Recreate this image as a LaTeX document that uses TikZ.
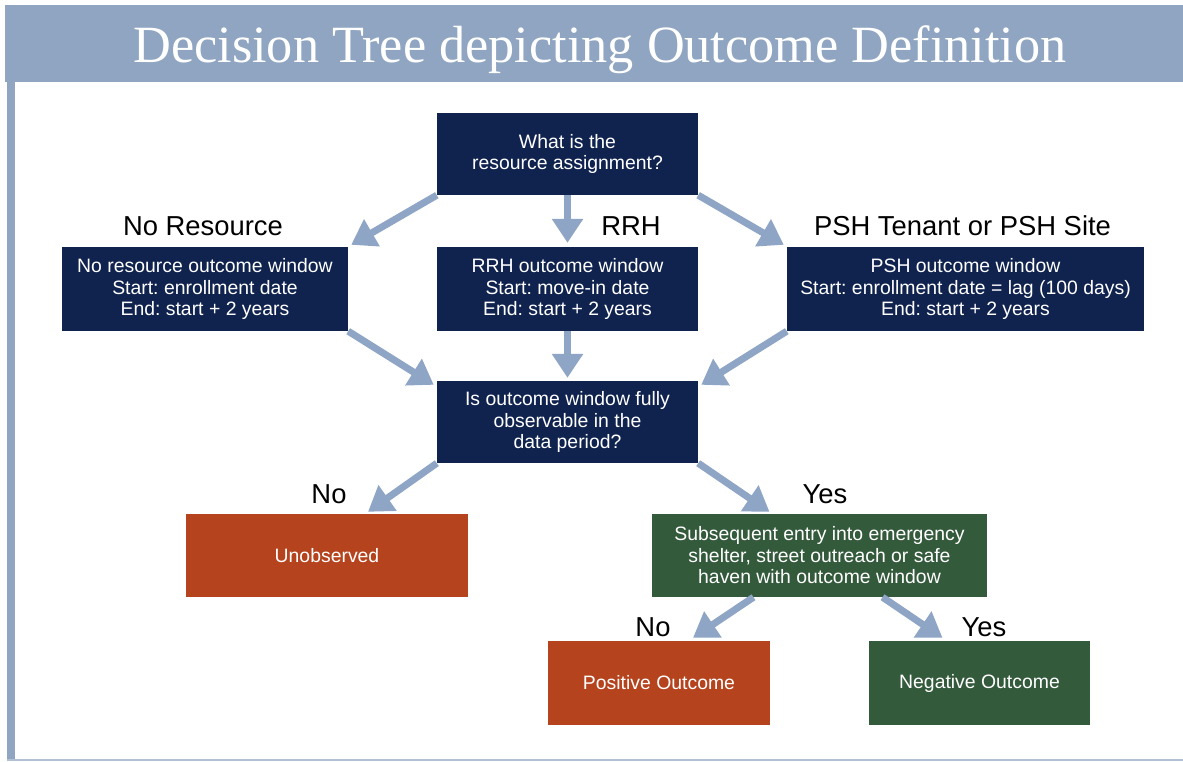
\documentclass[tikz,border=0pt]{standalone}
\usepackage{fontspec}
\setmainfont{Liberation Sans}
\newfontfamily\titlefont{Liberation Serif}
\usetikzlibrary{arrows.meta,calc}
\definecolor{bandc}{HTML}{8FA5C1}
\definecolor{arrowc}{HTML}{8FA5C6}
\definecolor{navyc}{HTML}{10234F}
\definecolor{redc}{HTML}{B5431E}
\definecolor{greenc}{HTML}{345A3C}
\tikzset{
  box/.style={fill=navyc, text=white, align=center, inner sep=0pt,
    font=\fontsize{19.4}{21.5}\selectfont},
  redbox/.style={box, fill=redc},
  greenbox/.style={box, fill=greenc},
  lbl/.style={anchor=base, inner sep=0pt, font=\fontsize{27.4}{30}\selectfont},
  arr/.style={draw=arrowc, line width=7pt, -{Triangle[width=30pt,length=24pt]}, fill=arrowc}
}
\begin{document}
\frenchspacing
\begin{tikzpicture}[x=1pt,y=-1pt]
\useasboundingbox (0,0) rectangle (1183,762);
\fill[white] (0,0) rectangle (1183,762);
% title band and frame
\fill[bandc] (5,5) rectangle (1183,82);
\fill[bandc] (7,82) rectangle (15,761);
\fill[bandc!70] (7,759) rectangle (1183,761);
\node[anchor=base, inner sep=0pt, text=white, font=\titlefont\fontsize{52.3}{56}\selectfont] (title) at (600,63) {Decision Tree depicting Outcome Definition};
% boxes
\node[box, minimum width=261pt, minimum height=82pt] (top) at (567.5,154) {What is the\\resource assignment?};
\node[box, minimum width=286pt, minimum height=84pt] (nr) at (205,289) {No resource outcome window\\Start: enrollment date\\End: start + 2 years};
\node[box, minimum width=261pt, minimum height=84pt] (rrh) at (567.5,289) {RRH outcome window\\Start: move-in date\\End: start + 2 years};
\node[box, minimum width=357pt, minimum height=84pt] (psh) at (965.5,289) {PSH outcome window\\Start: enrollment date = lag (100 days)\\End: start + 2 years};
\node[box, minimum width=261pt, minimum height=82pt] (mid) at (567.5,422) {Is outcome window fully\\observable in the\\data period?};
\node[redbox, minimum width=282pt, minimum height=83pt] (unobs) at (327,555.5) {Unobserved};
\node[greenbox, minimum width=335pt, minimum height=83pt] (sub) at (819.5,555.5) {Subsequent entry into emergency\\shelter, street outreach or safe\\haven with outcome window};
\node[redbox, minimum width=222pt, minimum height=84pt] (pos) at (659,683) {Positive Outcome};
\node[greenbox, minimum width=221pt, minimum height=84pt] (neg) at (979.5,683) {Negative Outcome};
% labels
\node[lbl] (lnr) at (203,236) {No Resource};
\node[lbl] (lrrh) at (631,236) {RRH};
\node[lbl] (lpsh) at (962.5,236) {PSH Tenant or PSH Site};
\node[lbl] (lno1) at (329,503) {No};
\node[lbl] (lyes1) at (825,503) {Yes};
\node[lbl] (lno2) at (653,636) {No};
\node[lbl] (lyes2) at (984,636) {Yes};
% arrows
\draw[arr] (top.south west) -- ($(nr.north east)+(3,-2)$);
\draw[arr] (top.south) -- ($(rrh.north)+(0,-4)$);
\draw[arr] (top.south east) -- ($(psh.north west)+(-3,-2)$);
\draw[arr] (nr.south east) -- ($(mid.north west)+(-3,4)$);
\draw[arr] (rrh.south) -- ($(mid.north)+(0,-3)$);
\draw[arr] (psh.south west) -- ($(mid.north east)+(3,4)$);
\draw[arr] (mid.south west) -- ($(unobs.north)+(41,-2)$);
\draw[arr] (mid.south east) -- ($(sub.north)+(-50,-2)$);
\draw[arr] ($(sub.south)+(-66,0)$) -- ($(pos.north)+(34,-3)$);
\draw[arr] ($(sub.south)+(63,0)$) -- ($(neg.north)+(-37,-3)$);
\end{tikzpicture}
\end{document}
